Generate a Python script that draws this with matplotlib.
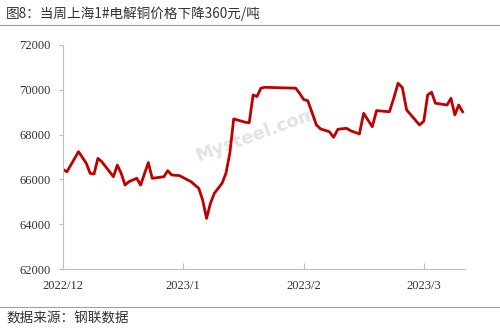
import pandas as pd
import matplotlib
matplotlib.use('Agg')
import matplotlib.pyplot as plt

plt.rcParams['font.family'] = ['Noto Sans CJK SC', 'DejaVu Sans']

# 上海1#电解铜价格 (元/吨), 读自原图
dates = [
    '2022-12-01', '2022-12-02', '2022-12-05', '2022-12-07', '2022-12-08',
    '2022-12-09', '2022-12-10', '2022-12-11', '2022-12-14', '2022-12-15',
    '2022-12-16', '2022-12-17', '2022-12-18', '2022-12-20', '2022-12-21',
    '2022-12-23', '2022-12-24', '2022-12-27', '2022-12-28', '2022-12-29',
    '2022-12-31',
    '2023-01-03', '2023-01-05', '2023-01-06', '2023-01-07', '2023-01-08',
    '2023-01-09', '2023-01-11', '2023-01-12', '2023-01-13', '2023-01-14',
    '2023-01-17', '2023-01-18', '2023-01-19', '2023-01-20', '2023-01-21',
    '2023-01-22', '2023-01-30', '2023-01-31',
    '2023-02-01', '2023-02-02', '2023-02-04', '2023-02-05', '2023-02-07',
    '2023-02-08', '2023-02-09', '2023-02-11', '2023-02-12', '2023-02-14',
    '2023-02-15', '2023-02-17', '2023-02-18', '2023-02-21', '2023-02-22',
    '2023-02-23', '2023-02-24', '2023-02-25', '2023-02-28',
    '2023-03-01', '2023-03-02', '2023-03-03', '2023-03-04', '2023-03-07',
    '2023-03-08', '2023-03-09', '2023-03-10', '2023-03-11',
]
prices = [
    66450, 66340, 67240, 66720, 66270,
    66240, 66940, 66790, 66120, 66640,
    66270, 65750, 65900, 66050, 65750,
    66750, 66050, 66120, 66390, 66200,
    66170,
    65900, 65600, 65080, 64260, 64930,
    65380, 65830, 66270, 67170, 68700,
    68550, 68530, 69770, 69700, 70070,
    70110, 70070, 69840,
    69570, 69510, 68430, 68250, 68130,
    67880, 68240, 68280, 68170, 68030,
    68950, 68350, 69070, 69020, 69620,
    70290, 70100, 69100, 68430,
    68600, 69770, 69890, 69400, 69320,
    69620, 68880, 69320, 69020,
]
month_labels = ['2022/12', '2023/1', '2023/2', '2023/3']
y_ticks = [62000, 64000, 66000, 68000, 70000, 72000]

title = '图8：当周上海1#电解铜价格下降360元/吨'
source = '数据来源：钢联数据'

# position in "months since 2022/12" so each month gets the same width
d = pd.to_datetime(pd.Series(dates))
xpos = (d.dt.year - 2022) * 12 + d.dt.month - 12 + (d.dt.day - 1) / d.dt.days_in_month

fig = plt.figure(figsize=(5, 3.33), dpi=100)
ax = fig.add_axes([0.126, 0.192, 0.804, 0.673])

ax.plot(xpos, prices, color='#C00000', lw=2.0, solid_joinstyle='round')

ax.set_ylim(62000, 72000)
ax.set_yticks(y_ticks)
ax.set_xlim(0, xpos.iloc[-1] + 0.02)
ax.set_xticks(range(len(month_labels)))
ax.set_xticklabels(month_labels)

for s in ['top', 'right']:
    ax.spines[s].set_visible(False)
for s in ['left', 'bottom']:
    ax.spines[s].set_color('#bfbfbf')
    ax.spines[s].set_linewidth(0.8)

ax.tick_params(axis='y', direction='out', length=3, color='#bfbfbf',
               labelsize=9, labelcolor='#333333', pad=6)
ax.tick_params(axis='x', direction='in', length=4, color='#bfbfbf',
               labelsize=9, labelcolor='#333333', pad=8)
for lab in ax.get_xticklabels() + ax.get_yticklabels():
    lab.set_fontfamily('Liberation Serif')

# watermark
ax.text(0.48, 0.6, 'Mysteel.com', transform=ax.transAxes, rotation=20,
        fontsize=13, color='#e3e3e3', ha='center', va='center',
        fontweight='bold', family='DejaVu Sans', zorder=0)

fig.text(0.012, 0.96, title, fontsize=9.8, color='#333333', va='center')
fig.add_artist(plt.Line2D([0, 1], [0.925, 0.925], color='#a0a0a0', lw=0.8))
fig.add_artist(plt.Line2D([0, 1], [0.078, 0.078], color='#a0a0a0', lw=0.8))
fig.text(0.012, 0.045, source, fontsize=9.8, color='#333333', va='center')

plt.savefig('out.png', dpi=100)
plt.close()
